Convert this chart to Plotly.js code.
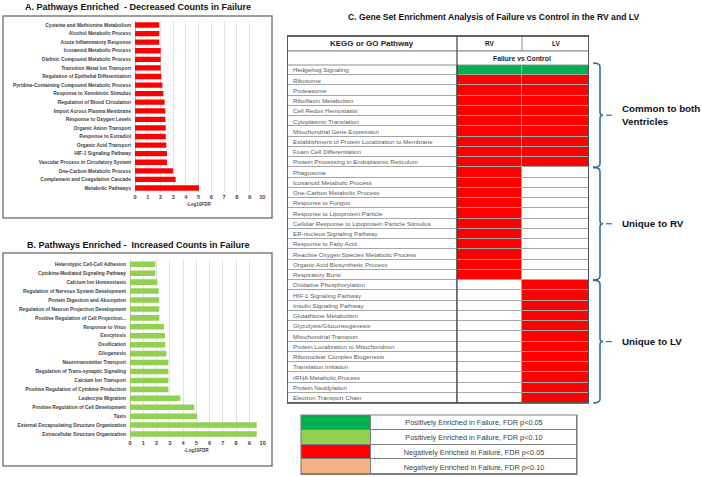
<!DOCTYPE html>
<html>
<head>
<meta charset="utf-8">
<script src="https://cdn.plot.ly/plotly-3.0.1.min.js"></script>
<style>html,body{margin:0;padding:0;background:#fff}#chart{width:702px;height:477px}</style>
</head>
<body>
<div id="chart"></div>
<script>
// ---------- DATA ----------
const decreasedPathways = [
  "Cysteine and Methionine Metabolism","Alcohol Metabolic Process","Acute Inflammatory Response",
  "Icosanoid Metabolic Process","Olefinic Compound Metabolic Process","Transition Metal Ion Transport",
  "Regulation of Epithelial Differentiation","Pyridine-Containing Compound Metabolic Process",
  "Response to Xenobiotic Stimulus","Regulation of Blood Circulation","Import Across Plasma Membrane",
  "Response to Oxygen Levels","Organic Anion Transport","Response to Estradiol","Organic Acid Transport",
  "HIF-1 Signaling Pathway","Vascular Process in Circulatory System","One-Carbon Metabolic Process",
  "Complement and Coagulation Cascade","Metabolic Pathways"
];
const decreasedLog10FDR = [1.91,1.91,1.91,2.02,2.02,2.02,2.07,2.15,2.23,2.33,2.38,2.38,2.41,2.41,2.46,2.51,2.51,2.98,3.19,5.03];

const increasedPathways = [
  "Heterotypic Cell-Cell Adhesion","Cytokine-Mediated Signaling Pathway","Calcium Ion Homeostasis",
  "Regulation of Nervous System Development","Protein Digestion and Absorption",
  "Regulation of Neuron Projection Development","Positive Regulation of Cell Projection...",
  "Response to Virus","Exocytosis","Ossification","Gliogenesis","Neurotransmitter Transport",
  "Regulation of Trans-synaptic Signaling","Calcium Ion Transport","Positive Regulation of Cytokine Production",
  "Leukocyte Migration","Positive Regulation of Cell Development","Taxis",
  "External Encapsulating Structure Organization","Extracellular Structure Organization"
];
const increasedLog10FDR = [1.91,1.91,2.06,2.16,2.21,2.21,2.21,2.56,2.64,2.66,2.74,2.89,2.89,2.89,2.89,3.79,4.85,5.05,9.55,9.55];

const tickValues = [0,1,2,3,4,5,6,7,8,9,10];

// Table C: 0 = not enriched, 1 = positive FDR<0.05, 3 = negative FDR<0.05
const gseaPathways = [
  "Hedgehog Signaling","Ribosome","Proteasome","Riboflavin Metabolism","Cell Redox Hemostasis",
  "Cytoplasmic Translation","Mitochondrial Gene Expression","Establishment of Protein Localization to Membrane",
  "Foam Cell Differentiation","Protein Processing in Endoplasmic Reticulum",
  "Phagosome","Icosanoid Metabolic Process","One-Carbon Metabolic Process","Response to Fungus",
  "Response to Lipoprotein Particle","Cellular Response to Lipoprotein Particle Stimulus",
  "ER-nucleus Signaling Pathway","Response to Fatty Acid","Reactive Oxygen Species Metabolic Process",
  "Organic Acid Biosynthetic Process","Respiratory Burst",
  "Oxidative Phosphorylation","HIF-1 Signaling Pathway","Insulin Signaling Pathway","Glutathione Metabolism",
  "Glycolysis/Gluconeogenesis","Mitochondrial Transport","Protein Localization to Mitochondrion",
  "Ribonuclear Complex Biogenesis","Translation Initiation","rRNA Metabolic Process","Protein Neddylation",
  "Electron Transport Chain"
];
const rvStatus = [1,3,3,3,3,3,3,3,3,3, 3,3,3,3,3,3,3,3,3,3,3, 0,0,0,0,0,0,0,0,0,0,0,0];
const lvStatus = [1,3,3,3,3,3,3,3,3,3, 0,0,0,0,0,0,0,0,0,0,0, 3,3,3,3,3,3,3,3,3,3,3,3];
const tableColumns = ["KEGG or GO Pathway","RV","LV"];
const comparisonLabel = "Failure vs Control";
const groupLabels = ["Common to both<br>Ventricles","Unique to RV","Unique to LV"];
const groupSizes = [10,11,12];

const legendLabels = [
  "Positively Enriched in Failure, FDR p<0.05",
  "Positively Enriched in Failure, FDR p<0.10",
  "Negatively Enriched in Failure, FDR p<0.05",
  "Negatively Enriched in Failure, FDR p<0.10"
];
const legendCodes = [1,2,3,4];

// ---------- STYLE / LAYOUT ----------
const W = 702, H = 477;
const px = x => x / W;
const py = y => 1 - y / H;
const FONT = "Liberation Sans, Arial, sans-serif";
const statusColors = ["#FFFFFF","#00B050","#92D050","#FF0000","#F4B183"];
const colorscale = [];
statusColors.forEach((c,i)=>{
  const a = Math.max(0,(i-0.5)/4), b = Math.min(1,(i+0.5)/4);
  colorscale.push([a,c]); colorscale.push([b,c]);
});
const colEdges = [0,170,235,302];
const legEdges = [0,70,276];

const tableTop = 36, hdr1 = 51, hdr2 = 65, tableBot = 403;

const traces = [];
traces.push({
  type:'bar', orientation:'h', x:decreasedLog10FDR, y:decreasedPathways,
  xaxis:'x', yaxis:'y', marker:{color:'#FF0000'}, width:0.62, hoverinfo:'x+y'
});
traces.push({
  type:'bar', orientation:'h', x:increasedLog10FDR, y:increasedPathways,
  xaxis:'x2', yaxis:'y2', marker:{color:'#92D050'}, width:0.62, hoverinfo:'x+y'
});
traces.push({
  type:'heatmap', x:colEdges, y:gseaPathways,
  z:gseaPathways.map((n,i)=>[0, rvStatus[i], lvStatus[i]]),
  xaxis:'x3', yaxis:'y3', colorscale:colorscale, zmin:0, zmax:4, showscale:false,
  xgap:1, ygap:1, hoverinfo:'skip'
});
traces.push({
  type:'heatmap', x:legEdges, y:legendLabels,
  z:legendCodes.map(c=>[c,0]),
  text:legendLabels.map(l=>['',l]), texttemplate:'%{text}',
  textfont:{family:FONT, size:7.3, color:'#404040'},
  xaxis:'x4', yaxis:'y4', colorscale:colorscale, zmin:0, zmax:4, showscale:false,
  xgap:1, ygap:1, hoverinfo:'skip'
});

const barX = (dom) => ({
  domain:dom, range:[0,10], tickvals:tickValues, showgrid:true, gridcolor:'#d9d9d9', gridwidth:0.8,
  zeroline:true, zerolinecolor:'#bfbfbf', zerolinewidth:1, showline:false, ticks:'',
  tickfont:{family:FONT, size:5.6, color:'#404040', weight:700},
  title:{text:'-Log10FDR', font:{family:FONT, size:4.6, color:'#404040', weight:700}, standoff:3},
  fixedrange:true
});
const barY = (dom, cats) => ({
  domain:dom, type:'category', categoryarray:cats, autorange:'reversed', showgrid:false,
  zeroline:false, showline:false, ticks:'', ticklabelstandoff:3,
  tickfont:{family:FONT, size:4.9, color:'#404040', weight:700}, fixedrange:true
});

const shapes = [];
const annotations = [];
const ann = (o) => annotations.push(Object.assign({showarrow:false, xanchor:'center', yanchor:'middle'}, o));

shapes.push({type:'rect', xref:'paper', yref:'paper', x0:px(3), x1:px(272), y0:py(218), y1:py(16), line:{color:'#7f7f7f', width:1.5}});
shapes.push({type:'rect', xref:'paper', yref:'paper', x0:px(3), x1:px(272), y0:py(466), y1:py(253), line:{color:'#7f7f7f', width:1.5}});
shapes.push({type:'rect', xref:'x3 domain', yref:'y3 domain', x0:0, x1:1, y0:0, y1:1, fillcolor:'#a6a6a6', line:{width:0}, layer:'below'});
shapes.push({type:'rect', xref:'x3', yref:'paper', x0:colEdges[0], x1:colEdges[3], y0:py(hdr1), y1:py(tableTop), fillcolor:'#fff', line:{color:'#8c8c8c', width:1}});
shapes.push({type:'rect', xref:'x3', yref:'paper', x0:colEdges[0], x1:colEdges[3], y0:py(hdr2), y1:py(hdr1), fillcolor:'#fff', line:{color:'#8c8c8c', width:1}});
shapes.push({type:'line', xref:'x3', yref:'paper', x0:colEdges[2], x1:colEdges[2], y0:py(hdr1), y1:py(tableTop), line:{color:'#8c8c8c', width:1}});
shapes.push({type:'line', xref:'x3', yref:'paper', x0:colEdges[1], x1:colEdges[1], y0:py(tableBot), y1:py(tableTop), line:{color:'#404040', width:1.2}});
shapes.push({type:'rect', xref:'x3', yref:'paper', x0:colEdges[0], x1:colEdges[3], y0:py(tableBot), y1:py(tableTop), line:{color:'#404040', width:1.6}});
shapes.push({type:'rect', xref:'x4 domain', yref:'y4 domain', x0:0, x1:1, y0:0, y1:1, fillcolor:'#7f7f7f', line:{width:0}, layer:'below'});
shapes.push({type:'rect', xref:'x4 domain', yref:'y4 domain', x0:0, x1:1, y0:0, y1:1, line:{color:'#7f7f7f', width:1.2}});

ann({xref:'x3', yref:'paper', x:(colEdges[0]+colEdges[1])/2, y:py((tableTop+hdr1)/2), text:tableColumns[0], font:{family:FONT, size:8, color:'#262626', weight:700}});
ann({xref:'x3', yref:'paper', x:(colEdges[1]+colEdges[2])/2, y:py((tableTop+hdr1)/2), text:tableColumns[1], font:{family:FONT, size:6.5, color:'#262626', weight:700}});
ann({xref:'x3', yref:'paper', x:(colEdges[2]+colEdges[3])/2, y:py((tableTop+hdr1)/2), text:tableColumns[2], font:{family:FONT, size:6.5, color:'#262626', weight:700}});
ann({xref:'x3', yref:'paper', x:colEdges[2], y:py((hdr1+hdr2)/2), text:comparisonLabel, font:{family:FONT, size:6.8, color:'#262626', weight:700}});

const rowH = (tableBot - hdr2) / gseaPathways.length;
let acc = 0;
const braceX = 600, braceColor = '#2F6F9F';
groupSizes.forEach((n,gi)=>{
  const top = hdr2 + acc*rowH - (gi===0?2:0);
  const bot = hdr2 + (acc+n)*rowH;
  const mid = (top+bot)/2;
  acc += n;
  const p = (x,y)=> `${px(x)},${py(y)}`;
  const path = `M ${p(593,top)} Q ${p(braceX,top)} ${p(braceX,top+4)} L ${p(braceX,mid-3)} Q ${p(braceX,mid)} ${p(braceX+3,mid)} Q ${p(braceX,mid)} ${p(braceX,mid+3)} L ${p(braceX,bot-4)} Q ${p(braceX,bot)} ${p(593,bot)}`;
  shapes.push({type:'path', xref:'paper', yref:'paper', path:path, line:{color:braceColor, width:1.6}});
  shapes.push({type:'line', xref:'paper', yref:'paper', x0:px(606), x1:px(612), y0:py(mid), y1:py(mid), line:{color:braceColor, width:1.2}});
  ann({xref:'paper', yref:'paper', x:px(620), y:py(mid), xanchor:'left', align:'left', text:groupLabels[gi], font:{family:FONT, size:9.8, color:'#111', weight:700}});
});

ann({xref:'paper', yref:'paper', x:px(138), y:py(7), text:'A. Pathways Enriched&nbsp; - Decreased Counts in Failure', font:{family:FONT, size:9, color:'#111', weight:700}});
ann({xref:'paper', yref:'paper', x:px(138), y:py(245), text:'B. Pathways Enriched -&nbsp; Increased Counts in Failure', font:{family:FONT, size:9, color:'#111', weight:700}});
ann({xref:'paper', yref:'paper', x:px(493), y:py(17), text:'C. Gene Set Enrichment Analysis of Failure vs Control in the RV and LV', font:{family:FONT, size:8.6, color:'#111', weight:700}});

const layout = {
  width:W, height:H, margin:{l:0,r:0,t:0,b:0}, paper_bgcolor:'#fff', plot_bgcolor:'#fff',
  showlegend:false,
  xaxis: Object.assign(barX([px(135), px(262.3)]), {anchor:'y'}),
  yaxis: Object.assign(barY([py(192.3), py(20.7)], decreasedPathways), {anchor:'x'}),
  xaxis2: Object.assign(barX([px(130), px(262.7)]), {anchor:'y2'}),
  yaxis2: Object.assign(barY([py(438.5), py(259.8)], increasedPathways), {anchor:'x2'}),
  xaxis3: {domain:[px(287), px(589)], range:[0,302], anchor:'y3', showgrid:false, zeroline:false, showticklabels:false, showline:false, ticks:'', fixedrange:true},
  yaxis3: {domain:[py(tableBot), py(hdr2)], anchor:'x3', type:'category', categoryarray:gseaPathways, autorange:'reversed',
           showgrid:false, zeroline:false, showline:false, ticks:'', ticklabelposition:'inside', ticklabelstandoff:3,
           tickfont:{family:FONT, size:6.2, color:'#595959'}, fixedrange:true},
  xaxis4: {domain:[px(301), px(577)], range:[0,276], anchor:'y4', showgrid:false, zeroline:false, showticklabels:false, showline:false, ticks:'', fixedrange:true},
  yaxis4: {domain:[py(474.3), py(415)], anchor:'x4', type:'category', categoryarray:legendLabels, autorange:'reversed',
           showgrid:false, zeroline:false, showticklabels:false, showline:false, ticks:'', fixedrange:true},
  shapes:shapes, annotations:annotations
};

Plotly.newPlot('chart', traces, layout, {displayModeBar:false, staticPlot:true});
</script>
</body>
</html>
